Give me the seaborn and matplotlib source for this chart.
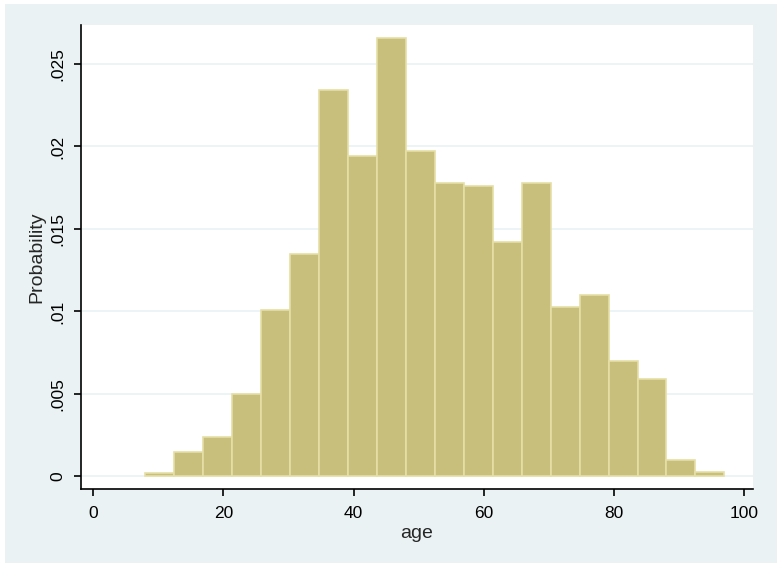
"""
Stata-style histogram of age (density), redrawn with seaborn.
"""
import matplotlib.pyplot as plt
import matplotlib.patches as mpatches
import seaborn as sns

# --- data -----------------------------------------------------------
bin_edges = [8 + 4.45 * i for i in range(21)]
heights = [0.0002, 0.0015, 0.0024, 0.0050, 0.0101, 0.0135, 0.0234, 0.0194,
           0.0266, 0.0197, 0.0178, 0.0176, 0.0142, 0.0178, 0.0103, 0.0110,
           0.0070, 0.0059, 0.0010, 0.0003]
x_ticks = [0, 20, 40, 60, 80, 100]
y_ticks = [0, 0.005, 0.01, 0.015, 0.02, 0.025]
y_tick_labels = ["0", ".005", ".01", ".015", ".02", ".025"]

centers = [(bin_edges[i] + bin_edges[i + 1]) / 2 for i in range(len(heights))]

sns.set_style("white")
plt.rcParams["font.family"] = ["Liberation Sans", "DejaVu Sans"]

fig = plt.figure(figsize=(7.8, 5.69), dpi=100, facecolor="white")
# light blue-grey outer region like Stata's s2color scheme
bg = mpatches.Rectangle((5 / 780, 6 / 569), 772 / 780, 559 / 569,
                        transform=fig.transFigure, facecolor="#EAF2F3",
                        edgecolor="none", zorder=-10)
fig.add_artist(bg)

ax = fig.add_axes([81 / 780, 1 - 489 / 569, 672 / 780, 464 / 569])
ax.set_facecolor("white")

sns.histplot(x=centers, weights=heights, bins=bin_edges, stat="count",
             color="#C8BF7D", edgecolor="#E6DFA6", linewidth=1.2, alpha=1,
             ax=ax, zorder=2)

ax.set_xlim(-1.9, 101.4)
ax.set_ylim(-0.00076, 0.02736)
ax.set_xticks(x_ticks)
ax.set_yticks(y_ticks)
ax.set_yticklabels(y_tick_labels, rotation=90, va="center")
ax.tick_params(axis="both", direction="out", length=5, width=1.2, labelsize=12.5,
               colors="black", bottom=True, left=True)
ax.tick_params(axis="x", pad=7)
ax.tick_params(axis="y", pad=6)

for y in y_ticks:
    ax.axhline(y, color="#EAF2F3", linewidth=1.2, zorder=1)

for side in ["top", "right"]:
    ax.spines[side].set_visible(False)
for side in ["left", "bottom"]:
    ax.spines[side].set_color("black")
    ax.spines[side].set_linewidth(1.2)

ax.set_xlabel("age", fontsize=14, labelpad=3)
ax.set_ylabel("Probability", fontsize=14, labelpad=4)

fig.savefig("out.png", dpi=100, facecolor="white")
